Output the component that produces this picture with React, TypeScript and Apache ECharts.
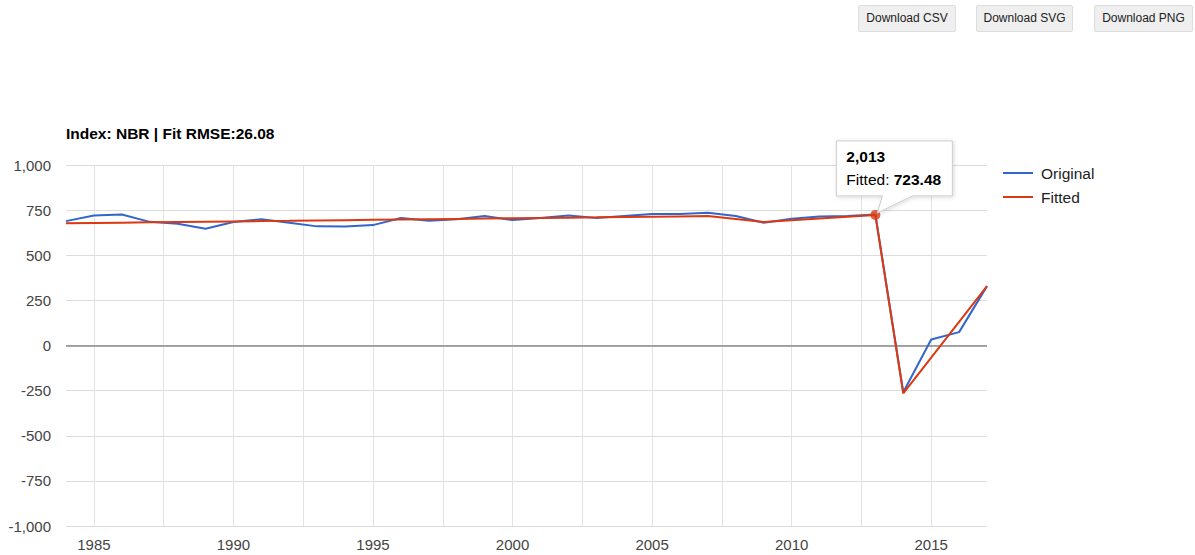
import React, { useEffect, useRef } from "react";
import * as echarts from "echarts";

const years = [1984, 1985, 1986, 1987, 1988, 1989, 1990, 1991, 1992, 1993, 1994, 1995, 1996, 1997, 1998, 1999, 2000, 2001, 2002, 2003, 2004, 2005, 2006, 2007, 2008, 2009, 2010, 2011, 2012, 2013, 2014, 2015, 2016, 2017];
const original = [689, 720, 726, 685, 675, 647, 684, 700, 680, 660, 659, 667, 706, 691, 700, 717, 695, 706, 720, 706, 717, 728, 728, 735, 717, 680, 702, 715, 717, 726, -259, 33, 74, 329];
const fitted = [677.0, 678.7, 680.5, 682.2, 684.0, 685.7, 687.4, 689.2, 690.9, 692.7, 694.4, 696.1, 697.9, 699.6, 701.3, 703.1, 704.8, 706.6, 708.3, 710.0, 711.8, 713.5, 715.3, 717.0, 700.5, 684.0, 693.9, 703.7, 713.6, 723.48, -265, -67, 131, 329];
const xLabelValues = [1985, 1990, 1995, 2000, 2005, 2010, 2015];
const xGridValues = [1985, 1987.5, 1990, 1992.5, 1995, 1997.5, 2000, 2002.5, 2005, 2007.5, 2010, 2012.5, 2015];
const highlightYear = 2013;
const titleText = "Index: NBR | Fit RMSE:26.08";
const buttons = ["Download CSV", "Download SVG", "Download PNG"];

const FONT = 'Arial, "Liberation Sans", Helvetica, sans-serif';

export default function App() {
  const ref = useRef<HTMLDivElement>(null);
  useEffect(() => {
    if (!ref.current) return;
    const chart = echarts.init(ref.current, undefined, { renderer: "svg" });
    const hi = years.indexOf(highlightYear);
    const fmt = (v: number) => v.toLocaleString("en-US");
    chart.setOption({
      animation: false,
      textStyle: { fontFamily: FONT },
      title: {
        text: titleText,
        left: 61,
        top: 120,
        textStyle: { fontSize: 15.5, fontWeight: "bold", color: "#000", fontFamily: FONT },
      },
      legend: {
        orient: "vertical",
        left: 998,
        top: 160,
        itemWidth: 30,
        itemHeight: 2,
        itemGap: 8,
        icon: "rect",
        data: ["Original", "Fitted"],
        textStyle: { fontSize: 15.5, color: "#222", fontFamily: FONT, padding: [0, 0, 0, 3] },
      },
      grid: { left: 66, right: 208, top: 165, bottom: 29, containLabel: false },
      xAxis: {
        type: "value",
        min: 1984,
        max: 2017,
        axisLine: { show: false },
        axisTick: { show: false, customValues: xGridValues },
        axisLabel: { customValues: xLabelValues, color: "#444", fontSize: 15, margin: 11, fontFamily: FONT, formatter: (v: number) => String(v) },
        splitLine: { show: true, lineStyle: { color: "#e3e3e3", width: 1 } },
      },
      yAxis: {
        type: "value",
        min: -1000,
        max: 1000,
        interval: 250,
        axisLine: { show: false },
        axisTick: { show: false },
        axisLabel: { color: "#444", fontSize: 15, margin: 15, fontFamily: FONT, formatter: fmt },
        splitLine: { show: true, lineStyle: { color: "#dcdcdc", width: 1 } },
      },
      series: [
        {
          name: "Original",
          type: "line",
          data: years.map((y, i) => [y, original[i]]),
          symbol: "none",
          lineStyle: { color: "#3366cc", width: 2 },
          itemStyle: { color: "#3366cc" },
          markLine: {
            silent: true,
            symbol: ["none", "none"],
            label: { show: false },
            lineStyle: { color: "#8a8a8a", type: "solid", width: 1.5 },
            data: [{ yAxis: 0 }],
            z: 1,
          },
        },
        {
          name: "Fitted",
          type: "line",
          data: years.map((y, i) => [y, fitted[i]]),
          symbol: "none",
          lineStyle: { color: "#dc3912", width: 2 },
          itemStyle: { color: "#dc3912" },
          z: 3,
        },
        {
          name: "FittedPoint",
          type: "scatter",
          data: [[years[hi], fitted[hi]]],
          symbol: "circle",
          symbolSize: 10,
          itemStyle: { color: "#dc3912" },
          z: 4,
        },
      ],
    });
    const [px, py] = chart.convertToPixel({ gridIndex: 0 }, [years[hi], fitted[hi]]) as number[];
    const bx = px - 39;
    const by = py - 74;
    const bw = 116;
    const bh = 55;
    chart.setOption({
      graphic: [
        {
          type: "polygon",
          z: 100,
          shape: {
            points: [
              [bx, by],
              [bx + bw, by],
              [bx + bw, by + bh],
              [bx + 76, by + bh],
              [px + 2, py - 2],
              [bx + 46, by + bh],
              [bx, by + bh],
            ],
          },
          style: {
            fill: "#fff",
            stroke: "#cccccc",
            lineWidth: 1,
            shadowBlur: 4,
            shadowColor: "rgba(0,0,0,0.15)",
            shadowOffsetX: 1,
            shadowOffsetY: 1,
          },
        },
        {
          type: "text",
          z: 101,
          x: bx + 10,
          y: by + 16,
          style: {
            text: fmt(years[hi]),
            fontSize: 15.5,
            fontWeight: "bold",
            fontFamily: FONT,
            fill: "#000",
            verticalAlign: "middle",
          },
        },
        {
          type: "text",
          z: 101,
          x: bx + 10,
          y: by + 39,
          style: {
            text: "{n|Fitted: }{b|" + fitted[hi].toFixed(2) + "}",
            verticalAlign: "middle",
            rich: {
              n: { fontSize: 15.5, fontFamily: FONT, fill: "#000", color: "#000" },
              b: { fontSize: 15.5, fontFamily: FONT, fontWeight: "bold", fill: "#000", color: "#000" },
            },
          },
        },
      ],
    });
    return () => chart.dispose();
  }, []);

  const btnLefts = [858, 976, 1094];
  const btnWidths = [98, 97, 99];
  return (
    <div style={{ position: "absolute", left: 0, top: 0, width: 1195, height: 555, background: "#fff", fontFamily: FONT }}>
      <div ref={ref} style={{ position: "absolute", left: 0, top: 0, width: 1195, height: 555 }} />
      {buttons.map((b, i) => (
        <div
          key={b}
          style={{
            position: "absolute",
            left: btnLefts[i],
            top: 5,
            width: btnWidths[i],
            height: 27,
            boxSizing: "border-box",
            background: "#efefef",
            border: "1px solid #dddddd",
            borderRadius: 2,
            fontSize: 12,
            color: "#222",
            lineHeight: "25px",
            textAlign: "center",
            fontFamily: FONT,
          }}
        >
          {b}
        </div>
      ))}
    </div>
  );
}
